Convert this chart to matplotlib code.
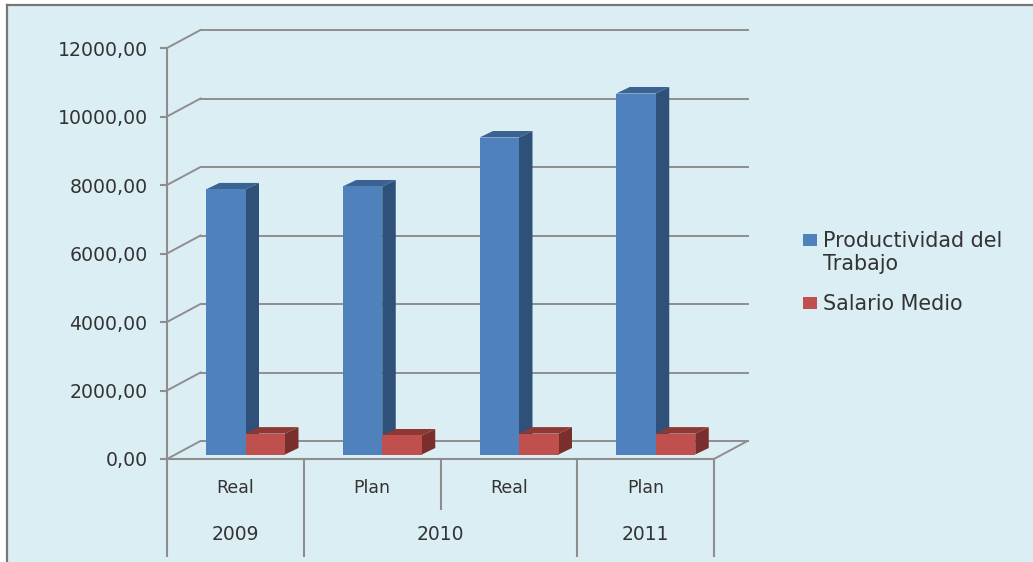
import matplotlib
matplotlib.use("Agg")
import matplotlib.pyplot as plt
from matplotlib.patches import Rectangle
from matplotlib.lines import Line2D

W, H = 1033, 562

months = ["Real", "Plan", "Real", "Plan"]
years = ["2009", "2010", "2011"]
year_pos = [0.5, 2.0, 3.5]
productividad = [7740, 7825, 9255, 10540]
salario = [610, 555, 610, 610]
yticks = [0, 2000, 4000, 6000, 8000, 10000, 12000]
ylabels = ["0,00", "2000,00", "4000,00", "6000,00", "8000,00", "10000,00", "12000,00"]
series_names = ["Productividad del\nTrabajo", "Salario Medio"]

BG = "#dbeef4"
GREY = "#8e8e8e"
TXT = "#333333"
FONT = "DejaVu Sans"

fig = plt.figure(figsize=(W / 100, H / 100), dpi=100, facecolor="white")
# light panel with the grey frame on the left and top
fig.add_artist(Rectangle((7 / W, 0), 1, 1 - 5 / H, transform=fig.transFigure, fc=BG, ec="none", zorder=-2))
fig.add_artist(Line2D([7 / W, 7 / W], [0, 1 - 5 / H], color="#777777", lw=1.6, zorder=-1))
fig.add_artist(Line2D([7 / W, 1], [1 - 5 / H, 1 - 5 / H], color="#777777", lw=1.6, zorder=-1))

ax = fig.add_axes([167 / W, (H - 459) / H, 547 / W, 411 / H])
ax.set_facecolor("none")
ax.set_xlim(0, 4)
ax.set_ylim(0, 12000)

px_x = 4 / 547      # one pixel in x data units
px_y = 12000 / 411  # one pixel in y data units
dx, dy = 33.5 * px_x, 18 * px_y  # depth of the chart box

for s in ["top", "right"]:
    ax.spines[s].set_visible(False)
for s in ["left", "bottom"]:
    ax.spines[s].set_color(GREY)
    ax.spines[s].set_linewidth(1.5)

ax.set_xticks([])
ax.set_yticks(yticks)
ax.set_yticklabels(ylabels, fontsize=13.6, color=TXT, family=FONT)
ax.tick_params(axis="y", length=5, width=1.5, color=GREY, pad=9)

# back wall gridlines and side wall diagonals
for v in yticks:
    ax.plot([dx, 4 + dx], [v + dy, v + dy], color=GREY, lw=1.4, clip_on=False, zorder=1)
    ax.plot([0, dx], [v, v + dy], color=GREY, lw=1.4, clip_on=False, zorder=1)
ax.plot([4, 4 + dx], [0, dy], color=GREY, lw=1.4, clip_on=False, zorder=1)


def bar3d(x0, w, val, front, side, top):
    # front face sits a little behind the floor edge
    ox, oy = 8 * px_x, 4.5 * px_y
    bx, by = 13.5 * px_x, 6.5 * px_y
    ax.fill([x0 + w, x0 + w + bx, x0 + w + bx, x0 + w],
            [oy, oy + by, val + oy + by, val + oy], color=side, lw=0, clip_on=False, zorder=3)
    ax.fill([x0, x0 + bx, x0 + w + bx, x0 + w],
            [val + oy, val + oy + by, val + oy + by, val + oy], color=top, lw=0, clip_on=False, zorder=3)
    ax.bar(x0, val, w, bottom=oy, align="edge", color=front, lw=0, clip_on=False, zorder=4)


bw = 39.5 * px_x
for i, (p, s) in enumerate(zip(productividad, salario)):
    x0 = i + 39 * px_x
    bar3d(x0, bw, p, "#4f81bd", "#2f5078", "#3a6393")
    bar3d(x0 + bw, bw, s, "#c0504d", "#7a2f2d", "#8e3836")

# multi level category axis below the floor
for x, bottom in [(0, 97), (1, 97), (2, 50), (3, 97), (4, 97)]:
    ax.plot([x, x], [0, -bottom * px_y], color=GREY, lw=1.5, clip_on=False, zorder=1)
for i, m in enumerate(months):
    ax.text(i + 0.5, -29 * px_y, m, ha="center", va="center", fontsize=12.5, color=TXT, family=FONT)
for x, y in zip(year_pos, years):
    ax.text(x, -76 * px_y, y, ha="center", va="center", fontsize=13.5, color=TXT, family=FONT)

# legend: square sits on the first text line
colors = ["#4f81bd", "#c0504d"]
for name, c, first in zip(series_names, colors, [240, 303]):
    fig.add_artist(Rectangle((803 / W, 1 - (first + 6) / H), 14 / W, 12 / H,
                             transform=fig.transFigure, fc=c, ec="none"))
    fig.text(823 / W, 1 - (first - 9) / H, name, ha="left", va="top", fontsize=14.9,
             color=TXT, family=FONT, linespacing=1.2)

fig.savefig("out.png", dpi=100)
